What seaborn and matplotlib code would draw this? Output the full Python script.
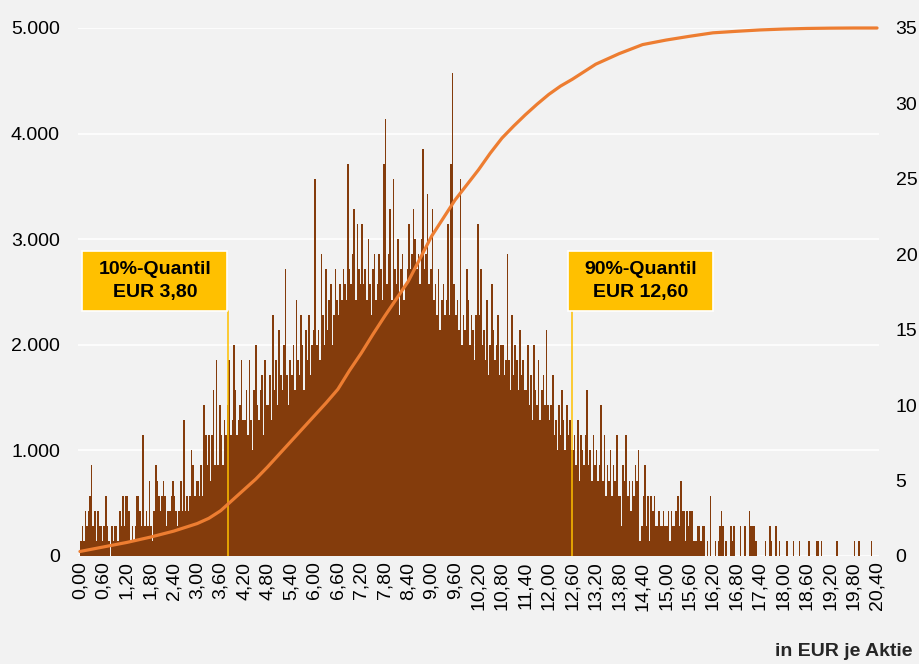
import numpy as np
import pandas as pd
import matplotlib
matplotlib.use("Agg")
import matplotlib.pyplot as plt
import seaborn as sns
from matplotlib.patches import Rectangle

# frequency per 0,04 EUR bin, in units of 1000/7
BIN_WIDTH = 0.04
UNIT      = 1000 / 7
bin_counts = [
    1, 2, 1, 3, 2, 3, 4, 6, 2, 3, 1, 3, 2, 2, 1,              # 0,00 - 0,60
    2, 4, 2, 1, 0, 2, 1, 2, 2, 1, 3, 2, 4, 2, 4,              # 0,60 - 1,20
    4, 3, 1, 2, 1, 2, 4, 4, 3, 2, 8, 2, 3, 2, 5,              # 1,20 - 1,80
    2, 1, 3, 6, 5, 4, 3, 4, 5, 4, 2, 3, 3, 4, 5,              # 1,80 - 2,40
    4, 3, 2, 3, 5, 3, 9, 3, 4, 3, 4, 7, 6, 4, 5,              # 2,40 - 3,00
    5, 4, 6, 4, 10, 8, 6, 8, 5, 8, 11, 6, 13, 6, 10,          # 3,00 - 3,60
    8, 6, 9, 8, 10, 13, 8, 9, 14, 11, 8, 9, 10, 13, 9,        # 3,60 - 4,20
    9, 11, 8, 13, 9, 7, 11, 14, 10, 9, 11, 12, 8, 13, 10,     # 4,20 - 4,80
    10, 12, 9, 16, 11, 13, 10, 15, 12, 11, 14, 19, 12, 10, 13,  # 4,80 - 5,40
    12, 14, 11, 17, 13, 12, 16, 14, 11, 15, 13, 16, 12, 14, 15,  # 5,40 - 6,00
    25, 14, 15, 13, 20, 16, 14, 19, 15, 17, 18, 14, 16, 19, 17,  # 6,00 - 6,60
    16, 18, 17, 19, 18, 17, 26, 19, 18, 20, 23, 17, 22, 19, 18,  # 6,60 - 7,20
    22, 18, 19, 17, 21, 18, 16, 19, 20, 17, 18, 20, 19, 17, 26,  # 7,20 - 7,80
    29, 18, 20, 23, 17, 25, 19, 18, 21, 16, 19, 20, 17, 18, 19,  # 7,80 - 8,40
    22, 19, 20, 23, 21, 19, 20, 18, 21, 27, 19, 20, 24, 18, 19,  # 8,40 - 9,00
    23, 17, 18, 16, 19, 15, 17, 18, 16, 17, 22, 16, 26, 32, 18,  # 9,00 - 9,60
    16, 17, 15, 25, 14, 16, 15, 19, 17, 14, 16, 15, 13, 16, 22,  # 9,60 - 10,20
    16, 19, 14, 15, 13, 17, 12, 14, 18, 15, 13, 14, 16, 12, 14,  # 10,20 - 10,80
    14, 12, 13, 20, 13, 11, 16, 12, 14, 13, 11, 15, 12, 13, 11,  # 10,80 - 11,40
    11, 14, 10, 12, 9, 14, 11, 10, 13, 9, 11, 12, 10, 15, 10,   # 11,40 - 12,00
    9, 10, 12, 8, 9, 7, 10, 8, 11, 9, 7, 10, 8, 9, 7,           # 12,00 - 12,60
    7, 8, 6, 9, 5, 8, 7, 6, 8, 11, 6, 7, 5, 8, 6,               # 12,60 - 13,20
    7, 5, 6, 10, 5, 8, 4, 6, 5, 7, 4, 6, 5, 8, 4,               # 13,20 - 13,80
    4, 2, 6, 5, 8, 4, 5, 3, 5, 4, 6, 5, 7, 1, 2,                # 13,80 - 14,40
    4, 6, 2, 4, 1, 4, 3, 4, 2, 2, 3, 2, 2, 3, 2,                # 14,40 - 15,00
    2, 3, 1, 3, 2, 2, 3, 4, 2, 5, 3, 3, 1, 3, 2,                # 15,00 - 15,60
    3, 3, 1, 1, 1, 2, 2, 1, 2, 2, 0, 1, 0, 4, 0,                # 15,60 - 16,20
    0, 1, 0, 1, 2, 3, 2, 0, 1, 0, 0, 2, 1, 2, 0,                # 16,20 - 16,80
    0, 0, 2, 0, 0, 2, 0, 0, 3, 2, 2, 2, 1, 0, 0,                # 16,80 - 17,40
    0, 0, 0, 1, 0, 0, 2, 1, 0, 0, 2, 0, 1, 0, 0,                # 17,40 - 18,00
    0, 0, 1, 0, 0, 0, 1, 0, 0, 0, 1, 0, 0, 0, 0,                # 18,00 - 18,60
    0, 1, 0, 0, 0, 0, 1, 1, 0, 1, 0, 0, 0, 0, 0,                # 18,60 - 19,20
    0, 0, 0, 0, 1, 0, 0, 0, 0, 0, 0, 0, 0, 0, 0,                # 19,20 - 19,80
    1, 0, 0, 1, 0, 0, 0, 0, 0, 0, 0, 1, 0, 0, 0,                # 19,80 - 20,40
]

x_tick_labels = [
    "0,00", "0,60", "1,20", "1,80", "2,40", "3,00", "3,60", "4,20", "4,80",
    "5,40", "6,00", "6,60", "7,20", "7,80", "8,40", "9,00", "9,60", "10,20",
    "10,80", "11,40", "12,00", "12,60", "13,20", "13,80", "14,40", "15,00",
    "15,60", "16,20", "16,80", "17,40", "18,00", "18,60", "19,20", "19,80", "20,40",
]

# cumulative curve (right axis)
cum_x = [
    0.0, 0.6, 1.2, 1.8, 2.4, 3.0, 3.3, 3.6, 3.9, 4.2, 4.5, 4.8, 5.1, 5.4,
    5.7, 6.0, 6.3, 6.6, 6.9, 7.2, 7.5, 7.8, 8.4, 9.0, 9.6, 9.9, 10.2, 10.5,
    10.8, 11.1, 11.4, 11.7, 12.0, 12.3, 12.6, 13.2, 13.5, 13.8, 14.1, 14.4,
    15.0, 15.6, 16.2, 16.8, 17.4, 18.0, 18.6, 19.2, 19.8, 20.4,
]
cum_values = [
    0.3, 0.6, 0.9, 1.25, 1.65, 2.15, 2.5, 3.0, 3.7, 4.4, 5.1, 5.9, 6.75, 7.6,
    8.45, 9.3, 10.15, 11.05, 12.3, 13.45, 14.7, 15.9, 18.2, 21.2, 23.6, 24.6,
    25.6, 26.7, 27.7, 28.5, 29.25, 29.95, 30.6, 31.15, 31.6, 32.6, 32.95, 33.3,
    33.6, 33.9, 34.2, 34.45, 34.68, 34.78, 34.87, 34.93, 34.97, 34.99, 35.0, 35.0,
]

left_ticks  = [0, 1000, 2000, 3000, 4000, 5000]
right_ticks = [0, 5, 10, 15, 20, 25, 30, 35]

quantiles       = [3.8, 12.6]
quantile_labels = ["10%-Quantil\nEUR 3,80", "90%-Quantil\nEUR 12,60"]

BG_COLOR    = "#F2F2F2"
BAR_COLOR   = "#843C0C"
LINE_COLOR  = "#ED7D31"
QUANT_COLOR = "#FFC000"

sns.set_theme(style="darkgrid", rc={
    "axes.facecolor": BG_COLOR,
    "figure.facecolor": BG_COLOR,
    "grid.color": "white",
    "grid.linewidth": 1.2,
})
plt.rcParams["font.family"] = ["Liberation Sans", "DejaVu Sans"]

fig = plt.figure(figsize=(9.2, 6.64), dpi=100)
ax  = fig.add_axes([78 / 920, 108 / 664, 801 / 920, 528 / 664])

bin_edges = np.linspace(0, 20.4, len(bin_counts) + 1).tolist()
df = pd.DataFrame({
    "price": np.array(bin_edges[:-1]) + BIN_WIDTH / 2,
    "freq":  np.array(bin_counts) * UNIT,
})

sns.histplot(data=df, x="price", weights="freq", bins=bin_edges,
             color=BAR_COLOR, alpha=1, linewidth=0, ax=ax, zorder=2)

ax.set_xlim(-0.05, 20.45)
ax.set_ylim(0, 5000)
ax.set_xlabel("")
ax.set_ylabel("")

x_ticks = [float(s.replace(",", ".")) for s in x_tick_labels]
ax.set_xticks(x_ticks)
ax.set_xticklabels(x_tick_labels, rotation=90, fontsize=14)
ax.set_yticks(left_ticks)
ax.set_yticklabels([f"{v:,}".replace(",", ".") for v in left_ticks], fontsize=14)
ax.tick_params(axis="x", length=0, pad=4, colors="black")
ax.tick_params(axis="y", length=0, pad=13, colors="black")
ax.grid(axis="x", visible=False)
ax.grid(axis="y", color="white", linewidth=1.2)
for s in ax.spines.values():
    s.set_visible(False)

# quantile markers and boxes
box_w, box_y0, box_h = 3.71, 2320, 568
box_x0 = [quantiles[0] - box_w - 0.03, quantiles[1] - 0.1]
for q, lab, x0 in zip(quantiles, quantile_labels, box_x0):
    ax.plot([q, q], [0, box_y0], color=QUANT_COLOR, linewidth=1.1, zorder=3)
    ax.add_patch(Rectangle((x0, box_y0), box_w, box_h, facecolor=QUANT_COLOR,
                           edgecolor="white", linewidth=1.2, zorder=4))
    ax.text(x0 + box_w / 2, box_y0 + box_h / 2, lab, ha="center", va="center",
            fontsize=14, fontweight="bold", color="black", linespacing=1.4, zorder=5)

# cumulative curve on the right axis
ax2 = ax.twinx()
sns.lineplot(x=cum_x, y=cum_values, ax=ax2, color=LINE_COLOR, linewidth=2.3)
ax2.lines[0].set_clip_on(False)
ax2.set_ylim(0, 35)
ax2.set_yticks(right_ticks)
ax2.set_yticklabels([str(v) for v in right_ticks], fontsize=14)
ax2.tick_params(axis="y", length=0, pad=12, colors="black")
ax2.grid(False)
ax2.set_facecolor("none")
for s in ax2.spines.values():
    s.set_visible(False)

fig.text(913 / 920, 12 / 664, "in EUR je Aktie", ha="right", va="center",
         fontsize=14, fontweight="bold")

plt.savefig("out.png", dpi=100, facecolor=BG_COLOR)
plt.close()
